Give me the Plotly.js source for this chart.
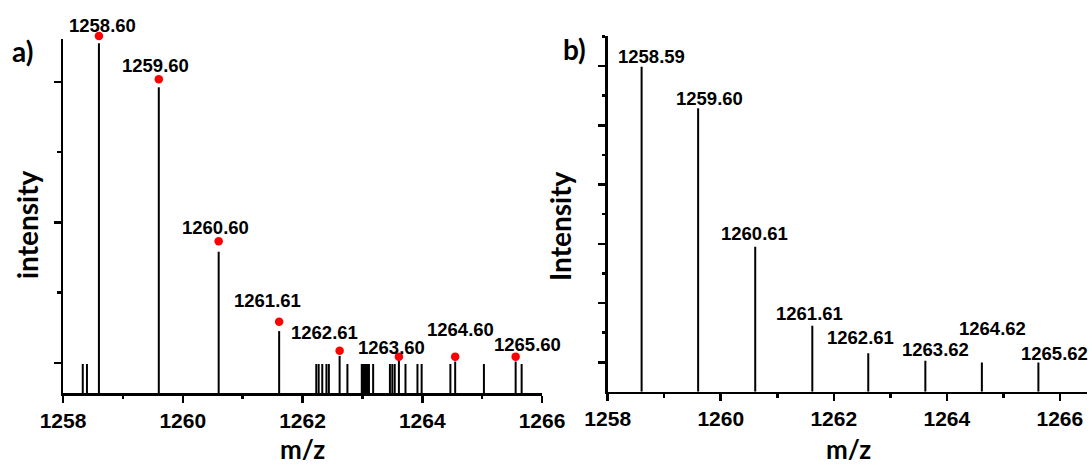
<!DOCTYPE html>
<html>
<head>
<meta charset="utf-8">
<script src="https://cdn.plot.ly/plotly-3.0.1.min.js"></script>
<style>html,body{margin:0;padding:0;background:#fff;}#chart{width:1092px;height:466px;}</style>
</head>
<body>
<div id="chart"></div>
<script>
// ---------- Panel a data (intensity in % of base peak) ----------
const peakLabelsA = ['1258.60','1259.60','1260.60','1261.61','1262.61','1263.60','1264.60','1265.60'];
const peakMzA     = [1258.60, 1259.60, 1260.60, 1261.61, 1262.62, 1263.61, 1264.55, 1265.56];
const peakIntA    = [100, 87.4, 40.4, 17.7, 10.6, 9.4, 9.0, 9.0];
const calcIntA    = [102.1, 89.7, 43.4, 20.4, 12.1, 10.4, 10.4, 10.4];   // red dots
const minorMzA    = [1258.33, 1258.40, 1262.23, 1262.27, 1262.33, 1262.40, 1262.44, 1262.75,
                     1262.99, 1263.01, 1263.03, 1263.05, 1263.07, 1263.09, 1263.11, 1263.18,
                     1263.46, 1263.50, 1263.54, 1263.72, 1263.92, 1263.99, 1264.47, 1265.03, 1265.66];
const minorIntA   = [8.3, 8.3, 8.3, 8.3, 8.3, 8.3, 8.3, 8.3,
                     8.3, 8.3, 8.3, 8.3, 8.3, 8.3, 8.3, 8.3,
                     8.3, 8.3, 8.3, 8.3, 8.3, 8.3, 8.3, 8.3, 8.3];

// ---------- Panel b data ----------
const peakLabelsB = ['1258.59','1259.60','1260.61','1261.61','1262.61','1263.62','1264.62','1265.62'];
const peakMzB     = [1258.60, 1259.60, 1260.61, 1261.62, 1262.61, 1263.62, 1264.62, 1265.62];
const peakIntB    = [100, 87.2, 44.6, 20.3, 11.8, 9.5, 9.0, 9.0];

// ---------- label offsets (px) : style, not data ----------
const offA = [[4,18],[-3,22],[-3,24],[-12,31],[-15,23],[-7,13],[5,32],[12,17]];
const offB = [[10,10],[11,10],[-1,13],[-3,12],[-8,16],[10,11],[11,34],[16,9]];

function sticks(xs, ys) {
  const X = [], Y = [];
  xs.forEach((x, i) => { X.push(x, x, null); Y.push(0, ys[i], null); });
  return {X, Y};
}

const sA = sticks(peakMzA.concat(minorMzA), peakIntA.concat(minorIntA));
const sB = sticks(peakMzB, peakIntB);

const traces = [
  {x: sA.X, y: sA.Y, mode: 'lines', line: {color: '#000', width: 2}, xaxis: 'x', yaxis: 'y', hoverinfo: 'skip'},
  {x: peakMzA, y: calcIntA, mode: 'markers', marker: {color: '#ff0000', size: 8.5}, xaxis: 'x', yaxis: 'y3', cliponaxis: false},
  {x: sB.X, y: sB.Y, mode: 'lines', line: {color: '#000', width: 2}, xaxis: 'x2', yaxis: 'y2', hoverinfo: 'skip'}
];

const lblFont = {family: 'Liberation Sans, Arial, sans-serif', size: 18.5, color: '#000', weight: 'bold'};
const titleFont = {family: 'Lato, Open Sans, sans-serif', size: 28, color: '#000', weight: 'bold'};
const mzFont = {family: 'Lato, Open Sans, sans-serif', size: 26, color: '#000', weight: 'bold'};
const annotations = [];
peakLabelsA.forEach((t, i) => annotations.push({
  x: peakMzA[i], y: peakIntA[i], xref: 'x', yref: 'y', text: t, showarrow: false,
  xanchor: 'center', yanchor: 'middle', xshift: offA[i][0], yshift: offA[i][1], font: lblFont
}));
peakLabelsB.forEach((t, i) => annotations.push({
  x: peakMzB[i], y: peakIntB[i], xref: 'x2', yref: 'y2', text: t, showarrow: false,
  xanchor: 'center', yanchor: 'middle', xshift: offB[i][0], yshift: offB[i][1], font: lblFont
}));
// titles and panel letters
annotations.push(
  {xref: 'paper', yref: 'paper', x: 27/1092, y: 1 - 225/466, text: 'intensity', textangle: -90, showarrow: false, xanchor: 'center', yanchor: 'middle', font: titleFont},
  {xref: 'paper', yref: 'paper', x: 560/1092, y: 1 - 226/466, text: 'Intensity', textangle: -90, showarrow: false, xanchor: 'center', yanchor: 'middle', font: titleFont},
  {xref: 'paper', yref: 'paper', x: 302.5/1092, y: 1 - 449/466, text: 'm/z', showarrow: false, xanchor: 'center', yanchor: 'middle', font: mzFont},
  {xref: 'paper', yref: 'paper', x: 848/1092, y: 1 - 449/466, text: 'm/z', showarrow: false, xanchor: 'center', yanchor: 'middle', font: mzFont},
  {xref: 'paper', yref: 'paper', x: 22/1092, y: 1 - 51/466, text: 'a)', showarrow: false, xanchor: 'center', yanchor: 'middle', font: titleFont},
  {xref: 'paper', yref: 'paper', x: 574/1092, y: 1 - 49/466, text: 'b)', showarrow: false, xanchor: 'center', yanchor: 'middle', font: titleFont}
);

const tickFont = {family: 'Liberation Sans, Arial, sans-serif', size: 21, color: '#000', weight: 'bold'};
const xCommon = {
  showline: true, linecolor: '#000', linewidth: 2.5, showgrid: false, zeroline: false,
  ticks: 'outside', ticklen: 7, tickwidth: 2.5, tickcolor: '#000', tickfont: tickFont,
  tickmode: 'linear', tick0: 1258, dtick: 2,
  minor: {ticks: 'outside', ticklen: 3.5, tickwidth: 2.5, tickcolor: '#000', dtick: 1, tick0: 1258, showgrid: false}
};

const pxPerUnitA = 349.7 / 100;
const layout = {
  width: 1092, height: 466,
  margin: {l: 0, r: 0, t: 0, b: 0},
  paper_bgcolor: '#fff', plot_bgcolor: 'rgba(0,0,0,0)',
  showlegend: false,
  xaxis: Object.assign({}, xCommon, {domain: [63/1092, 542/1092], range: [1258, 1266], anchor: 'y'}),
  xaxis2: Object.assign({}, xCommon, {domain: [607.7/1092, 1087/1092], range: [1258, 1266.48], anchor: 'y2'}),
  yaxis: {
    domain: [1 - 393/466, 1 - 39/466], range: [0, 354 / pxPerUnitA], anchor: 'x',
    showline: true, linecolor: '#000', linewidth: 2.5, showgrid: false, zeroline: false, showticklabels: false,
    ticks: 'outside', ticklen: 7, tickwidth: 2.5, tickcolor: '#000',
    tickmode: 'linear', tick0: 8.58, dtick: 40.18,
    minor: {ticks: 'outside', ticklen: 3.5, tickwidth: 2.5, tickcolor: '#000', tick0: 8.58, dtick: 20.09, showgrid: false}
  },
  // invisible twin of yaxis (same scale, taller domain) so the top red dot is not clipped
  yaxis3: {
    domain: [1 - 393/466, 1], range: [0, 393 / pxPerUnitA], anchor: 'x', visible: false,
    showgrid: false, zeroline: false
  },
  yaxis2: {
    domain: [1 - 391.7/466, 1 - 36/466], range: [0, 109.45], anchor: 'x2',
    showline: true, linecolor: '#000', linewidth: 2.5, showgrid: false, zeroline: false, showticklabels: false,
    ticks: 'outside', ticklen: 7, tickwidth: 2.5, tickcolor: '#000',
    tickmode: 'linear', tick0: 9.05, dtick: 18.23,
    minor: {ticks: 'outside', ticklen: 3.5, tickwidth: 2.5, tickcolor: '#000', tick0: 9.05, dtick: 9.115, showgrid: false}
  },
  annotations: annotations
};

Plotly.newPlot('chart', traces, layout, {staticPlot: true, displayModeBar: false});
</script>
</body>
</html>
